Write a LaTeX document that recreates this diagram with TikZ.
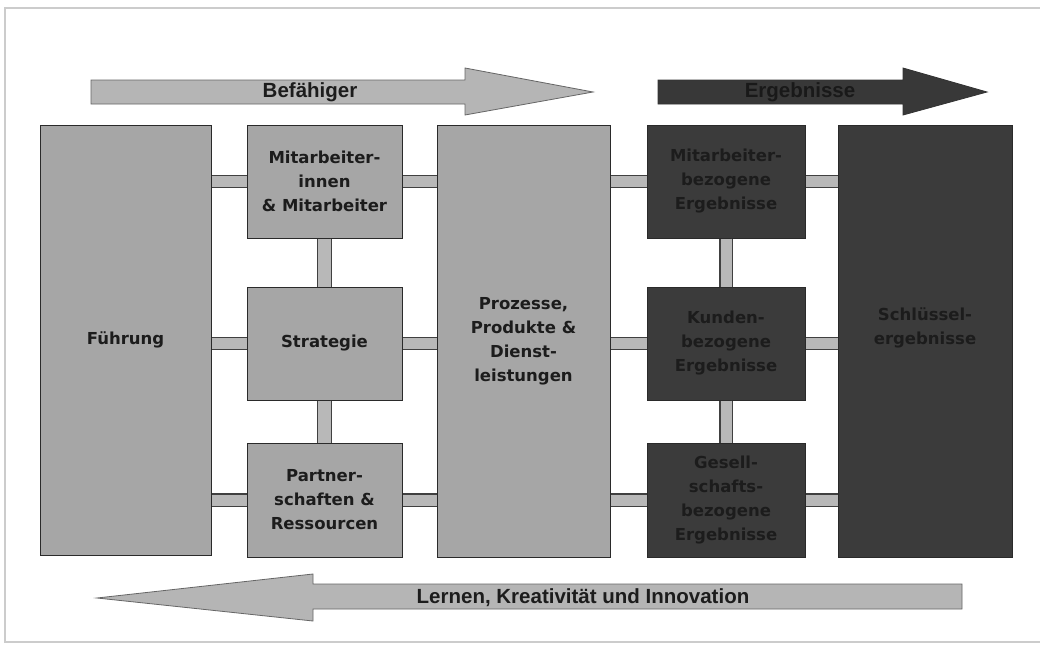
\documentclass[tikz,border=0pt]{standalone}
\usepackage{fontspec}
\setmainfont{DejaVu Sans}
\newfontfamily\arrfont{Liberation Sans}
\usetikzlibrary{shadows}
\definecolor{boxlight}{HTML}{A6A6A6}
\definecolor{boxdark}{HTML}{3B3B3B}
\definecolor{barfill}{HTML}{B8B8B8}
\definecolor{arrlight}{HTML}{B5B5B5}
\definecolor{arrdark}{HTML}{383838}
\definecolor{txtdark}{HTML}{1C1C1C}
\definecolor{edge}{HTML}{2A2A2A}
\definecolor{framecol}{HTML}{CCCCCC}
\tikzset{
  box/.style={rectangle, draw=edge, line width=1pt, inner sep=0pt, align=center,
    text=txtdark, font={\bfseries\fontsize{16.5}{24}\selectfont},
    general shadow={fill=black!80, shadow xshift=1.3pt, shadow yshift=-1.3pt}},
  lightbox/.style={box, fill=boxlight},
  darkbox/.style={box, fill=boxdark},
  bar/.style={line width=1.2pt, draw=black!75, double=barfill, double distance=11pt, line cap=butt},
  arrtext/.style={font={\arrfont\bfseries\fontsize{20.5}{24}\selectfont}, inner sep=0pt}
}
\begin{document}
\begin{tikzpicture}[x=1pt,y=-1pt]
\useasboundingbox (0,0) rectangle (1040,645);
\fill[white] (0,0) rectangle (1040,645);
\draw[framecol, line width=1.2pt] (1045,8) -- (5,8) -- (5,642) -- (1045,642);

% top arrows
\draw[fill=arrlight, draw=black!60, line width=0.8pt]
  (91,80) -- (465,80) -- (465,68) -- (593,92) -- (465,115) -- (465,104) -- (91,104) -- cycle;
\node[arrtext, text=txtdark] (befaehiger) at (310,92) {Befähiger};
\draw[fill=arrdark, draw=black!80, line width=0.8pt]
  (658,80) -- (903,80) -- (903,68) -- (987,92) -- (903,115) -- (903,104) -- (658,104) -- cycle;
\node[arrtext, text=black!90] (ergebnisse) at (800,92) {Ergebnisse};

% bottom arrow
\draw[fill=arrlight, draw=black!60, line width=0.8pt]
  (97,598) -- (313,574) -- (313,584) -- (962,584) -- (962,609) -- (313,609) -- (313,621) -- cycle;
\node[arrtext, text=txtdark] (lernen) at (583,598) {Lernen, Kreativität und Innovation};

% boxes
\node[lightbox, minimum width=171pt, minimum height=430pt] (fuehr) at (125.5,340) {Führung};
\node[lightbox, minimum width=155pt, minimum height=113pt] (mit) at (324.5,181.5) {Mitarbeiter-\\innen\\\& Mitarbeiter};
\node[lightbox, minimum width=155pt, minimum height=113pt] (strat) at (324.5,343.5) {Strategie};
\node[lightbox, minimum width=155pt, minimum height=114pt] (partner) at (324.5,500) {Partner-\\schaften \&\\Ressourcen};
\node[lightbox, minimum width=173pt, minimum height=432pt] (proz) at (523.5,341) {Prozesse,\\Produkte \&\\Dienst-\\leistungen};
\node[darkbox, minimum width=158pt, minimum height=113pt] (mbe) at (726,181.5) {Mitarbeiter-\\bezogene\\Ergebnisse};
\node[darkbox, minimum width=158pt, minimum height=113pt] (kbe) at (726,343.5) {Kunden-\\bezogene\\Ergebnisse};
\node[darkbox, minimum width=158pt, minimum height=114pt] (gbe) at (726,500) {Gesell-\\schafts-\\bezogene\\Ergebnisse};
\node[darkbox, minimum width=174pt, minimum height=432pt] (schl) at (925,341) {};
\node[text=txtdark, font={\bfseries\fontsize{16.5}{24}\selectfont}, align=center, inner sep=0pt] (schltxt) at (925,328) {Schlüssel-\\ergebnisse};

% connectors
\foreach \r in {mit,strat,partner}{
  \draw[bar] (fuehr.east |- \r.west) -- (\r.west);
  \draw[bar] (\r.east) -- (proz.west |- \r.east);
}
\foreach \r in {mbe,kbe,gbe}{
  \draw[bar] (proz.east |- \r.west) -- (\r.west);
  \draw[bar] (\r.east) -- (schl.west |- \r.east);
}
\draw[bar, double distance=13pt] (mit.south) -- (strat.north);
\draw[bar, double distance=13pt] (strat.south) -- (partner.north);
\draw[bar] (mbe.south) -- (kbe.north);
\draw[bar] (kbe.south) -- (gbe.north);
\end{tikzpicture}
\end{document}
